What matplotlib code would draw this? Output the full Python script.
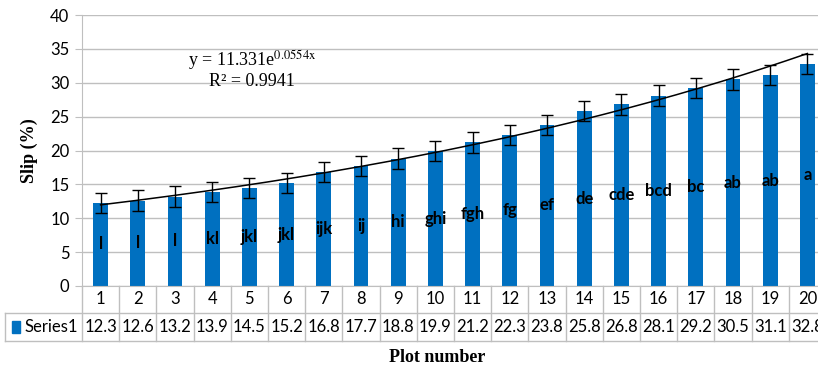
import numpy as np
import matplotlib
matplotlib.use("Agg")
import matplotlib.pyplot as plt
from matplotlib.patches import Rectangle

plots = list(range(1, 21))
slip = [12.3, 12.6, 13.2, 13.9, 14.5, 15.2, 16.8, 17.7, 18.8, 19.9,
        21.2, 22.3, 23.8, 25.8, 26.8, 28.1, 29.2, 30.5, 31.1, 32.8]
slip_err = [1.5] * 20
groups = ["l", "l", "l", "kl", "jkl", "jkl", "ijk", "ij", "hi", "ghi",
          "fgh", "fg", "ef", "de", "cde", "bcd", "bc", "ab", "ab", "a"]
trend_a, trend_b = 11.331, 0.0554

BAR = "#0070C0"
GRID = "#BFBFBF"
SANS = "Lato"
SERIF = "Liberation Serif"

fig = plt.figure(figsize=(8.18, 3.70), dpi=100)
W, H = 818, 370
x0, x1, ytop, ybot = 82, 826, 15, 286
ax = fig.add_axes([x0 / W, 1 - ybot / H, (x1 - x0) / W, (ybot - ytop) / H])

x = np.arange(1, len(plots) + 1)
ax.bar(x, slip, width=0.4, color=BAR, zorder=2)
ax.errorbar(x, slip, yerr=slip_err, fmt="none", ecolor="black",
            elinewidth=1.0, capsize=4, capthick=1.0, zorder=4)

# exponential trendline across the plots
xt = np.linspace(1, 20, 200)
ax.plot(xt, trend_a * np.exp(trend_b * xt), color="black", lw=1.1, zorder=3)

for xi, v, g in zip(x, slip, groups):
    ax.text(xi, v / 2, g, ha="center", va="center", fontsize=12,
            fontweight="bold", family=SANS, zorder=5)

eq_x = (252 - x0) / (x1 - x0)
ax.text(eq_x, 1 - (60 - ytop) / (ybot - ytop),
        r"y = 11.331e$^{\mathrm{0.0554x}}$", transform=ax.transAxes,
        ha="center", va="center", fontsize=13, family=SERIF,
        math_fontfamily="stix")
ax.text(eq_x, 1 - (81 - ytop) / (ybot - ytop), "R² = 0.9941",
        transform=ax.transAxes, ha="center", va="center", fontsize=13,
        family=SERIF)

ax.set_xlim(0.5, 20.5)
ax.set_ylim(0, 40)
ax.set_yticks(range(0, 41, 5))
ax.yaxis.grid(True, color=GRID, lw=1.0, zorder=0)
ax.set_axisbelow(True)
for s in ["top", "right"]:
    ax.spines[s].set_visible(False)
ax.spines["left"].set_color(GRID)
ax.spines["bottom"].set_color(GRID)
ax.set_xticks([])
ax.tick_params(axis="y", length=5, color=GRID, labelsize=12, pad=4)
for lab in ax.get_yticklabels():
    lab.set_family(SANS)
ax.set_ylabel("Slip (%)", family=SERIF, fontweight="bold", fontsize=13,
              labelpad=9)

# data table under the axis
ppu = (ybot - ytop)
r1 = -(313 - ybot) / ppu
r2 = -(341 - ybot) / ppu
lab_left = 0.5 - (x0 - 5) / ((x1 - x0) / 20)
tr = ax.get_xaxis_transform()
line_kw = dict(color=GRID, lw=1.0, transform=tr, clip_on=False)
for e in np.arange(0.5, 21.5, 1.0):
    ax.plot([e, e], [0, r2], **line_kw)
ax.plot([lab_left, 20.5], [r1, r1], **line_kw)
ax.plot([lab_left, 20.5], [r2, r2], **line_kw)
ax.plot([lab_left, lab_left], [r1, r2], **line_kw)
for xi, p, v in zip(x, plots, slip):
    ax.text(xi, r1 / 2, str(p), transform=tr, ha="center", va="center",
            fontsize=12, family=SANS, clip_on=False)
    ax.text(xi, (r1 + r2) / 2, f"{v:.1f}", transform=tr, ha="center",
            va="center", fontsize=12, family=SANS, clip_on=False)
ax.add_patch(Rectangle((lab_left + 0.19, (r1 + r2) / 2 - 0.022), 0.21, 0.044,
                       color=BAR, transform=tr, clip_on=False))
ax.text(lab_left + 0.52, (r1 + r2) / 2, "Series1", transform=tr, ha="left",
        va="center", fontsize=12, family=SANS, clip_on=False)

fig.text(437 / W, 1 - 358 / H, "Plot number", ha="center", va="center",
         family=SERIF, fontweight="bold", fontsize=13)

fig.savefig("out.png", dpi=100)
